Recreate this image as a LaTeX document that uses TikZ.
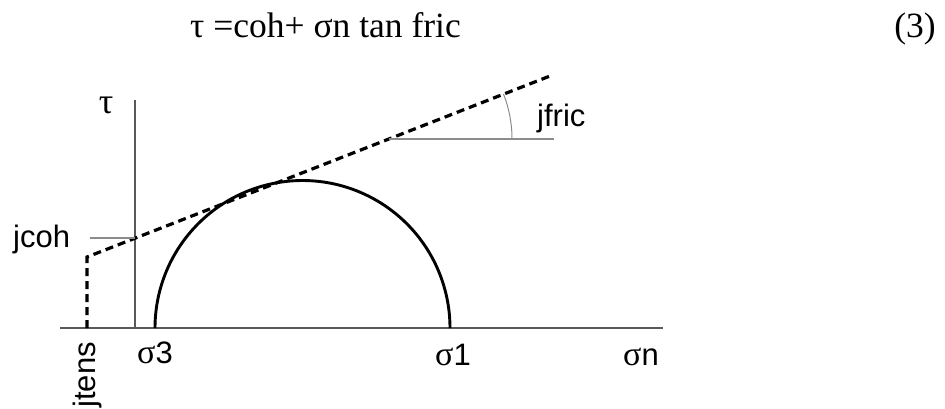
\documentclass[tikz,border=0pt]{standalone}
\usepackage{fontspec}
\setmainfont{Liberation Serif}
\setsansfont{Liberation Sans}
\newfontfamily\grk{Liberation Serif}
\begin{document}
\begin{tikzpicture}[x=1pt,y=-1pt,
  axisline/.style={draw=black!65, line width=1.4pt},
  tickline/.style={draw=black!45, line width=1.2pt},
  dashline/.style={draw=black, line width=3.2pt, dash pattern=on 8pt off 5pt},
  circline/.style={draw=black, line width=2.9pt},
  lab/.style={font=\sffamily\fontsize{31}{37}\selectfont, inner sep=0pt},
  eqlab/.style={font=\rmfamily\fontsize{35.5}{42}\selectfont, inner sep=0pt},
]
\useasboundingbox (0,0) rectangle (945,408);

% equation
\node[eqlab, anchor=base west] (eq) at (190,37) {τ =coh+ σn tan fric};
\node[eqlab, anchor=base east] (eqnum) at (936,37) {(3)};

% axes
\coordinate (xl) at (60,328);
\coordinate (xr) at (663,328);
\coordinate (yb) at (135,328);
\coordinate (yt) at (135,100);
\draw[axisline] (xl) -- (xr);
\draw[axisline] (yb) -- (yt);

% Mohr circle
\draw[circline] plot[domain=180:0, samples=120] ({302.5+147.5*cos(\x)},{328-147.5*sin(\x)});

% failure envelope
\coordinate (t0) at (87,328);
\coordinate (t1) at (87,257);
\coordinate (t2) at (550,76);
\draw[dashline] (t0) -- (t1) -- (t2);

% cohesion tick
\coordinate (c0) at (90,238);
\coordinate (c1) at (135,238);
\draw[tickline] (c0) -- (c1);

% friction angle
\coordinate (f0) at (389,139);
\coordinate (f1) at (554,139);
\draw[tickline] (f0) -- (f1);
\draw[tickline, line width=1pt] plot[domain=0:21.4, samples=30] ({389+123*cos(\x)},{139-123*sin(\x)});

% labels
\node[lab, anchor=base, font=\grk\fontsize{36}{40}\selectfont] (tau) at (106,113) {τ};
\node[lab, anchor=base west] (jcoh) at (13,247) {jcoh};
\node[lab, anchor=base west] (jfric) at (537,126) {jfric};
\node[lab, anchor=base west] (s3) at (137,363) {{\grk\fontsize{34}{40}\selectfont σ}3};
\node[lab, anchor=base west] (s1) at (435,365) {{\grk\fontsize{34}{40}\selectfont σ}1};
\node[lab, anchor=base west] (sn) at (623,365) {{\grk\fontsize{34}{40}\selectfont σ}n};
\node[lab, anchor=base east, rotate=90] (jtens) at (95,342) {jtens};
\end{tikzpicture}
\end{document}
